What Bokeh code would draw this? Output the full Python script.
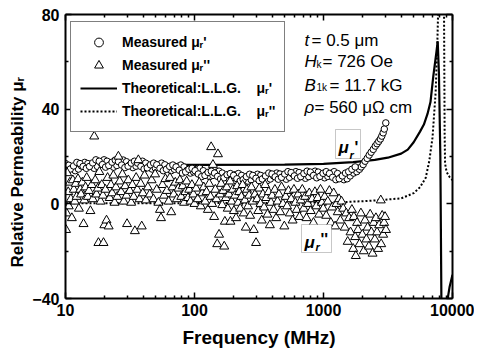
from bokeh.plotting import figure
from bokeh.models import (Range1d, FixedTicker, LogAxis, LinearAxis, NumeralTickFormatter,
                          Legend, LegendItem, Label, BoxAnnotation, CustomJSTickFormatter, Title)
from bokeh.embed import file_html
from bokeh.resources import INLINE

# ---------------- data ----------------
x_major = [10, 100, 1000, 10000]
x_minor = [20, 30, 40, 50, 60, 70, 80, 90, 200, 300, 400, 500, 600, 700, 800, 900,
           2000, 3000, 4000, 5000, 6000, 7000, 8000, 9000]
y_major = [-40, 0, 40, 80]
y_minor = [-20, 20, 60]

# measured mu_r' : first strand of the rope-like band, with the rising tail
circle_freq = [10, 10.6, 11.2, 11.9, 12.6, 13.3, 14.1, 14.9, 15.8, 16.7,
               17.7, 18.8, 19.9, 21, 22.3, 23.6, 25, 26.5, 28, 29.7,
               31.4, 33.3, 35.2, 37.3, 39.5, 41.8, 44.3, 46.9, 49.6, 52.5,
               55.6, 58.9, 62.3, 66, 69.9, 74, 78.3, 82.9, 87.8, 93,
               98.4, 104, 110, 117, 124, 131, 139, 147, 155, 164,
               174, 184, 195, 207, 219, 232, 245, 260, 275, 291,
               308, 326, 345, 366, 387, 410, 434, 459, 486, 515,
               545, 577, 611, 647, 685, 725, 768, 813, 861, 911,
               965, 1020, 1080, 1145, 1210, 1285, 1360, 1440, 1525, 1610,
               1710, 1810, 1900, 1960, 2030, 2100, 2180, 2260, 2340, 2430,
               2520, 2600, 2680, 2760, 2830, 2900, 2960, 3040]
circle_mu_re = [17.0, 16.3, 15.0, 14.0, 14.7, 16.0, 17.5, 17.0, 15.8, 15.0,
                15.8, 17.3, 18.6, 18.0, 16.6, 15.5, 16.2, 17.6, 18.5, 17.8,
                16.4, 15.3, 15.9, 17.2, 18.0, 17.2, 15.8, 14.7, 15.2, 16.5,
                17.2, 16.5, 15.0, 14.0, 14.6, 15.8, 16.4, 15.6, 14.2, 13.0,
                13.5, 14.6, 15.0, 14.0, 12.6, 11.5, 12.0, 13.3, 13.8, 13.0,
                11.6, 10.5, 11.0, 12.3, 12.8, 12.0, 10.6, 9.6, 10.2, 11.5,
                12.5, 12.0, 10.8, 9.8, 10.5, 11.8, 13.0, 12.6, 11.4, 10.4,
                11.2, 12.6, 13.6, 13.2, 11.8, 10.8, 11.5, 12.8, 13.8, 13.4,
                12.0, 11.0, 11.6, 12.9, 13.6, 12.8, 11.2, 10.2, 10.6, 11.8,
                13.0, 13.6, 14.6, 15.6, 16.6, 18.0, 19.2, 20.6, 21.8, 23.0,
                24.4, 25.4, 26.4, 27.4, 28.6, 30.0, 31.6, 34.2]

# measured mu_r' : second strand of the band
circle2_freq = [10.3, 10.9, 11.55, 12.25, 12.95, 13.7, 14.5, 15.35, 16.25, 17.2,
                18.25, 19.35, 20.45, 21.65, 22.95, 24.3, 25.75, 27.25, 28.85, 30.55,
                32.35, 34.25, 36.25, 38.4, 40.65, 43.05, 45.6, 48.25, 51, 54,
                57.25, 60.6, 64.15, 67.95, 71.95, 76.15, 80.6, 85.35, 90.4, 95.7,
                101, 107, 113.5, 120.5, 127.5, 135, 143, 151, 159.5, 169,
                179, 189.5, 201, 213, 225.5, 238.5, 252.5, 267.5, 283, 299.5,
                317, 335.5, 355.5, 376.5, 398.5, 422, 446.5, 472.5, 500.5, 530,
                561, 594, 629, 666, 705, 746.5, 790.5, 837, 886, 938,
                992.5, 1050, 1112.5, 1177.5, 1247.5, 1322.5, 1400, 1482.5, 1567.5, 1660,
                1760]
circle2_mu_re = [14.0, 14.7, 16.0, 17.5, 17.0, 15.8, 15.0, 15.8, 17.3, 18.6,
                 18.0, 16.6, 15.5, 16.2, 17.6, 18.5, 17.8, 16.4, 15.3, 15.9,
                 17.2, 18.0, 17.2, 15.8, 14.7, 15.2, 16.5, 17.2, 16.5, 15.0,
                 14.0, 14.6, 15.8, 16.4, 15.6, 14.2, 13.0, 13.5, 14.6, 15.0,
                 14.0, 12.6, 11.5, 12.0, 13.3, 13.8, 13.0, 11.6, 10.5, 11.0,
                 12.3, 12.8, 12.0, 10.6, 9.6, 10.2, 11.5, 12.5, 12.0, 10.8,
                 9.8, 10.5, 11.8, 13.0, 12.6, 11.4, 10.4, 11.2, 12.6, 13.6,
                 13.2, 11.8, 10.8, 11.5, 12.8, 13.8, 13.4, 12.0, 11.0, 11.6,
                 12.9, 13.6, 12.8, 11.2, 10.2, 10.6, 11.8, 13.0, 13.6, 14.6,
                 15.6]

tri_freq = [10.1, 10.2, 10.3, 10.5, 10.6, 10.8, 11.0, 11.2, 11.4, 11.6,
            11.8, 12.0, 12.2, 12.5, 12.7, 13.0, 13.2, 13.5, 13.8, 14.0,
            14.3, 14.6, 14.9, 15.2, 15.6, 16.0, 16.3, 16.7, 17.0, 17.4,
            17.8, 18.0, 18.3, 18.7, 19.1, 19.5, 19.7, 20.0,
            20.4, 20.8, 21.2, 21.6, 22.0, 22.5, 23.0, 23.5, 24.0, 24.6,
            25.2, 25.7, 26.3, 27.0, 27.6, 28.3, 29.0, 29.7, 30.0, 30.7,
            31.5, 32.3, 33.0, 33.8, 34.5, 35.3, 36.0, 36.7, 37.5, 38.3,
            39.0, 39.8,
            41, 42, 43.5, 45, 46.5, 48, 49.5, 51, 52.5, 54,
            55, 56.5, 58, 59.5, 61, 63, 64.5, 66, 67.5, 69,
            71, 73, 75, 77, 79, 81, 83, 85, 87, 89,
            91, 93, 95.5, 98, 100,
            103, 106, 109, 112, 115, 118, 121, 124, 127, 130,
            133, 134.6, 137, 139, 142, 145, 148, 150, 152, 155,
            158, 161, 164, 167, 170, 172, 175, 178, 181, 185,
            189, 190, 194, 198, 202, 206, 210, 214, 218, 222,
            226, 231, 236, 241, 246, 250, 255, 260, 265, 270,
            276, 282, 288, 294, 300,
            306, 312, 318, 325, 332, 339, 346, 353, 360, 368,
            376, 384, 392, 400, 410, 420, 430, 440, 451, 462,
            473, 485, 497, 509, 522, 535, 548, 562, 576, 590,
            605, 620, 636, 652, 668, 685, 702, 720, 738, 757,
            776, 796, 816, 836, 858, 880, 902, 925, 948, 972,
            996,
            1020, 1050, 1080, 1110, 1140, 1170, 1200, 1230, 1260, 1290,
            1320, 1350, 1380, 1420, 1460, 1500,
            1540, 1580, 1620, 1660, 1700, 1720, 1760, 1780, 1820, 1850,
            1900, 1950, 2000, 2050, 2100, 2150, 2200, 2250, 2300, 2350,
            2400, 2450, 2500, 2550, 2600, 2650, 2700, 2780, 2800, 2850,
            2900, 2950, 3000, 3050]
tri_mu_im = [-11, -4, 13, 5, -1, 9, 2, -6, 10, 6,
             1, 8.5, 3, 10.5, -2, 6, 4, 9, -8.5, 1.5,
             7, 11, 3, 5.5, -3, 8, 2, 28.5, 10, 4,
             6.5, -16.5, 13.5, 1, 8, 3.5, -16.5, -9,
             6, -7, 11, -9.5, 2.5, 8, 4.5, 12, 0.5, 7,
             3, 20, 9.5, 5, 12.5, 1, 7.5, 3.5, -8.5, 10,
             5.5, 0.5, 8, 3, -11.5, 11, 6, 18.5, 2, 8.5,
             -9.5, 4.5,
             12, 1.5, 7, 4, 10, 2, 12.5, 6, 0.5, -2.5,
             -6, 8, 3.5, 10.5, 5.5, 1, 11, -3.5, 7, 4,
             9, 2, 6.5, 10, 3, 7.5, 0.5, 5, 9.5, 2.5,
             6, 1, 8, 4, 0,
             6.5, 2, 9, -1, 4.5, 7, 1, 5, -2.5, 8.5,
             3, 24, 0, 16.5, -5.5, 6, 2, -17, 21, -13,
             4, 8.5, -0.5, 5.5, -18, -7.5, 2.5, 7, -2, 4,
             9.5, -7.5, 1, 6, -3, 3.5, -6, 7.5, 0.5, 5,
             -2, 3, 8, -4, 1.5, -10, 6, -1, 3.5, -5,
             7, 1, -11, 4, -16.5,
             2, -3, 6.5, 0, -7, 4, -1.5, 8, 2.5, -4.5,
             5, -9, 0.5, 3.5, -2.5, 6, -6, 1, 4, -3.5,
             7, 0, -9.5, 3, -1, 5.5, -4, 2, -7, 6,
             0.5, -2.5, 4, -5.5, 1.5, 6, -2, 3, -6, 0,
             4.5, -3, 2, -8, 5, -1, 2.5, -4.5, 6, 0.5,
             -2,
             3, -5, 1, 5.5, -8, -1.5, 4.5, -9.5, 0, -3.5,
             2, -7, 1, -2, -10, -4,
             -16, -6, -12, -2.5, -19, -5.5, -14, -22, -8, -11,
             -17, -4, -13, -20, -7, -15, -10, -18, -4.5, -12,
             -21, -8, -15, -6, -12, -19, -9, 1.5, -17, -5,
             -13, -8, -5.5, -11]

theory_freq_re = [10, 100, 500, 1000, 1700, 2500, 3150, 4000, 4500, 5000,
                  5600, 6000, 6400, 6750, 7100, 7500, 7680, 7850, 8050, 8200,
                  8300, 8600, 8900, 9120, 9500, 10000]
theory_mu_re = [16.5, 16.5, 16.6, 16.9, 17.6, 18.6, 19.5, 21.2, 22.9, 26.0,
                30.5, 33.5, 38.0, 43.0, 54.0, 64.0, 68.7, 55.0, 20.0, -40.0,
                -120.0, -110.0, -60.0, -41.0, -35.0, -30.0]

theory_freq_im = [10, 100, 500, 1000, 1500, 2000, 2800, 4000, 5000, 5600,
                  6200, 6600, 7000, 7400, 7630, 7770, 7900, 8200, 8500, 8600,
                  8690, 8760, 9000, 9500, 10000]
theory_mu_im = [0.2, 0.3, 0.4, 0.6, 0.8, 1.1, 1.6, 2.3, 4.5, 7.0,
                11.0, 18.0, 28.0, 47.0, 68.0, 85.0, 110.0, 130.0, 100.0, 80.0,
                30.0, 17.0, 13.5, 11.3, 10.0]

# ---------------- figure ----------------
FONT = "Liberation Sans"

p = figure(x_axis_type="log", x_range=Range1d(10, 10000), y_range=Range1d(-40, 80),
           frame_width=387, frame_height=284, output_backend="svg", toolbar_location=None,
           min_border_left=56, min_border_right=22, min_border_top=7, min_border_bottom=50,
           background_fill_color="white", border_fill_color="white")
p.margin = (7, 0, 0, 2)
p.xgrid.visible = False
p.ygrid.visible = False
p.outline_line_color = None

xt = FixedTicker(ticks=x_major, minor_ticks=x_minor)
yt = FixedTicker(ticks=y_major, minor_ticks=y_minor)
blank = CustomJSTickFormatter(code="return '';")


def style_axis(ax, labels=True):
    ax.axis_line_width = 2
    ax.axis_line_color = "black"
    ax.major_tick_in = 6
    ax.major_tick_out = 0
    ax.minor_tick_in = 3
    ax.minor_tick_out = 0
    ax.major_tick_line_width = 1.5
    ax.minor_tick_line_width = 1.5
    ax.major_tick_line_color = "black"
    ax.minor_tick_line_color = "black"
    ax.major_label_text_font = FONT
    ax.major_label_text_font_style = "bold"
    ax.major_label_text_font_size = "16px"
    ax.major_label_text_color = "black"
    if not labels:
        ax.formatter = blank
        ax.major_label_standoff = 0


xa = p.xaxis[0]
xa.ticker = xt
xa.formatter = NumeralTickFormatter(format="0")
style_axis(xa)
xa.major_label_standoff = 5
xa.axis_label = "Frequency (MHz)"
xa.axis_label_text_font = FONT
xa.axis_label_text_font_style = "bold"
xa.axis_label_text_font_size = "19px"
xa.axis_label_text_color = "black"
xa.axis_label_standoff = 8

ya = p.yaxis[0]
ya.ticker = yt
style_axis(ya)
ya.major_label_standoff = 6

# y axis title, placed in the left panel so that it can be shifted along the axis
ytitle = Title(text="Relative Permeability \u03bc\u1d63", align="left", offset=31,
               text_font=FONT, text_font_size="17px", text_font_style="bold",
               text_color="black", standoff=6)
p.add_layout(ytitle, "left")

top_ax = LogAxis(ticker=xt)
style_axis(top_ax, labels=False)
p.add_layout(top_ax, "above")
right_ax = LinearAxis(ticker=yt)
style_axis(right_ax, labels=False)
p.add_layout(right_ax, "right")

# ---------------- glyphs ----------------
r_re = p.line(theory_freq_re, theory_mu_re, line_color="black", line_width=2.2)
r_im = p.line(theory_freq_im, theory_mu_im, line_color="black", line_width=2, line_dash="2 2")
r_c = p.scatter(circle_freq, circle_mu_re, marker="circle", size=6.5,
                fill_color="white", line_color="black", line_width=1)
p.scatter(circle2_freq, circle2_mu_re, marker="circle", size=6.5,
          fill_color="white", line_color="black", line_width=1)
r_t = p.scatter(tri_freq, tri_mu_im, marker="triangle", size=9,
                fill_color="white", line_color="black", line_width=1)

nb = "\u00a0\u00a0\u00a0\u00a0"
legend = Legend(items=[
    LegendItem(label="Measured \u03bc\u1d63'", renderers=[r_c]),
    LegendItem(label="Measured \u03bc\u1d63''", renderers=[r_t]),
    LegendItem(label="Theoretical:L.L.G." + nb + "\u03bc\u1d63'", renderers=[r_re]),
    LegendItem(label="Theoretical:L.L.G." + nb + "\u03bc\u1d63''", renderers=[r_im]),
], location=(5, 166))
legend.border_line_color = "black"
legend.border_line_width = 1
legend.background_fill_color = "white"
legend.background_fill_alpha = 1
legend.label_text_font = FONT
legend.label_text_font_style = "bold"
legend.label_text_font_size = "14px"
legend.label_text_color = "black"
legend.glyph_width = 37
legend.glyph_height = 22
legend.label_height = 22
legend.spacing = 1
legend.padding = 9
legend.label_standoff = 5
legend.margin = 0
p.add_layout(legend)

# ---------------- annotations ----------------
def lab(x, y, text, size="17px", style="normal"):
    p.add_layout(Label(x=x, y=y, x_units="screen", y_units="screen", text=text,
                       text_font=FONT, text_font_size=size, text_font_style=style,
                       text_color="black", text_align="left", text_baseline="alphabetic"))

lab(239, 258, "t", style="italic")
lab(246, 258, "= 0.5 \u03bcm")
lab(239, 237, "H", style="italic")
lab(251, 234, "k", size="10px")
lab(257, 237, "= 726 Oe")
lab(239, 213, "B", style="italic")
lab(251, 211, "1k", size="10px")
lab(264, 213, "= 11.7 kG")
lab(239, 191, "\u03c1", style="italic")
lab(249, 191, "= 560 \u03bc\u03a9 cm")

for (l, r, t, b) in [(270, 295, 169, 140), (236, 266, 74, 46)]:
    p.add_layout(BoxAnnotation(left=l, right=r, top=t, bottom=b,
                               left_units="screen", right_units="screen",
                               top_units="screen", bottom_units="screen",
                               fill_color="white", fill_alpha=1,
                               line_color="#444444", line_width=1))

lab(273, 151, "\u03bc", size="17px", style="bold italic")
lab(284, 144, "r", size="11px", style="bold italic")
lab(289, 151, "'", size="16px", style="bold")
lab(239, 56, "\u03bc", size="17px", style="bold italic")
lab(250, 52, "r", size="11px", style="bold italic")
lab(255, 59, "''", size="16px", style="bold")

open("out.html", "w").write(file_html(p, INLINE))
